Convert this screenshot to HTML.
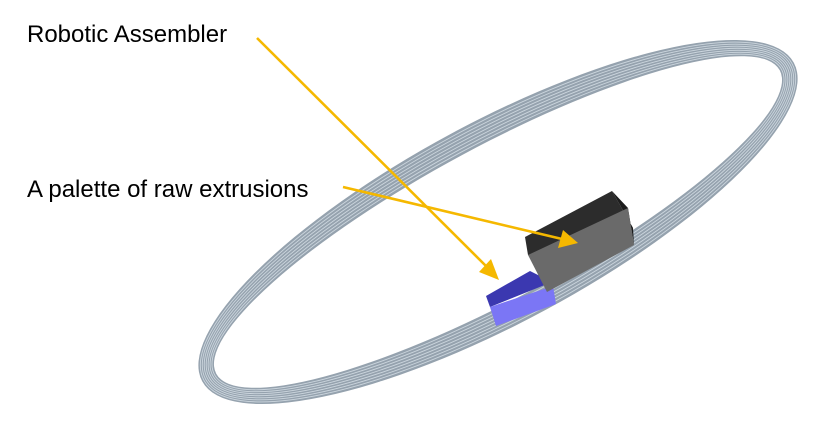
<!DOCTYPE html>
<html><head><style>
html,body{margin:0;padding:0;background:#fff;overflow:hidden;}
body{width:822px;height:429px;overflow:hidden;position:relative;font-family:"Liberation Sans",sans-serif;}
.t{position:absolute;font-size:24px;line-height:28px;color:#000;white-space:nowrap;}
</style></head><body>
<svg width="822" height="429" style="position:absolute;left:0;top:0;display:block">
<g transform="translate(498,222) rotate(-28.3)">
  <path fill-rule="evenodd" fill="#95a2ae" d="M-336,0 a336,100 0 1,0 672,0 a336,100 0 1,0 -672,0 Z M-320,0 a320,76 0 1,0 640,0 a320,76 0 1,0 -640,0 Z"/>
  <g fill="none" stroke="#ccd6de" stroke-width="0.9">
    <ellipse rx="334" ry="97"/>
    <ellipse rx="332" ry="94"/>
    <ellipse rx="330" ry="91"/>
    <ellipse rx="328" ry="88"/>
    <ellipse rx="326" ry="85"/>
    <ellipse rx="324" ry="82"/>
    <ellipse rx="322" ry="79"/>
  </g>
</g>
<polygon points="486,296 530,271 552,282 490,307" fill="#3b38b0"/>
<polygon points="490,307 553,286 556,304 496,326" fill="#7b76f5"/>
<polygon points="525,237 612,191 633,228 528,255" fill="#2c2c2c"/>
<polygon points="612,191 633,228 634,245 628,208" fill="#1c1c1c"/>
<polygon points="528,255 628,208 634,245 547,292" fill="#6a6a6a"/>
<g stroke="#f5b800" stroke-width="2.6" fill="#f5b800">
  <line x1="257" y1="38" x2="488" y2="268"/>
  <polygon points="499,280 479,272 491,259" stroke="none"/>
  <line x1="343" y1="187" x2="562" y2="239"/>
  <polygon points="578,243 558,248 563,230" stroke="none"/>
</g>
</svg>
<div class="t" style="left:27px;top:21px">Robotic Assembler</div>
<div class="t" style="left:27px;top:176px">A palette of raw extrusions</div>
</body></html>
